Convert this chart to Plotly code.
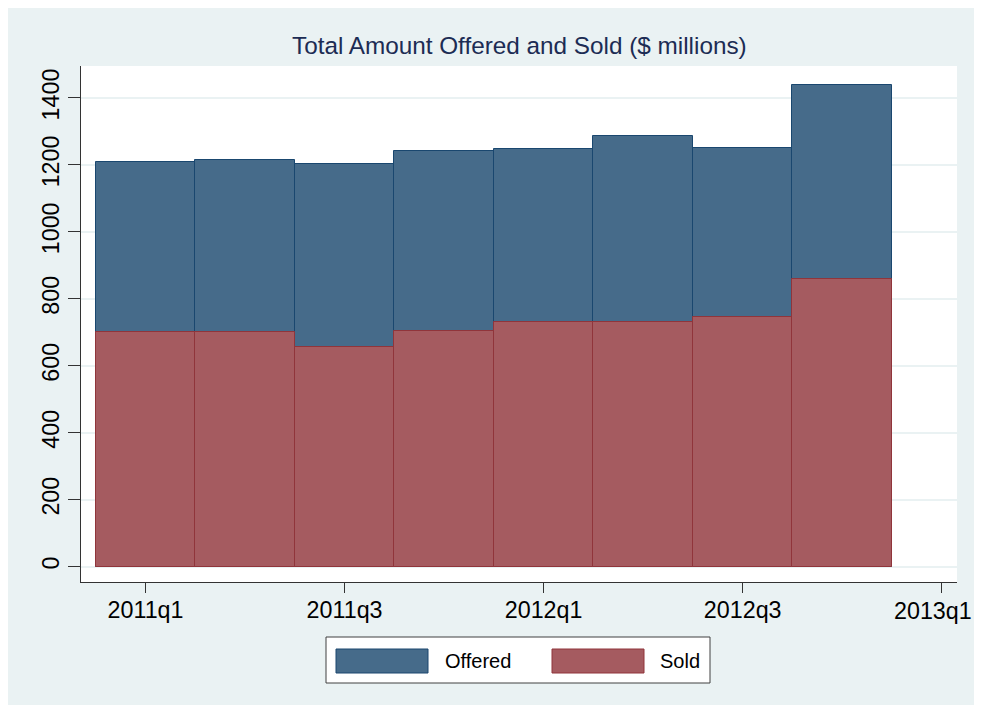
import plotly.graph_objects as go

# ---- data ----
quarters = ["2011q1", "2011q2", "2011q3", "2011q4", "2012q1", "2012q2", "2012q3", "2012q4"]
offered = [1209, 1216, 1202, 1243, 1249, 1286, 1252, 1440]
sold = [701, 701, 657, 704, 730, 730, 747, 858]
x_tick_labels = ["2011q1", "2011q3", "2012q1", "2012q3", "2013q1"]
x_tick_pos = [0, 2, 4, 6, 8]
y_ticks = [0, 200, 400, 600, 800, 1000, 1200, 1400]

# ---- style / layout (page body keeps its default 8px margin) ----
OX, OY = 8, 8
W, H = 966, 697
ML, MR, MT, MB = 73, 17, 58, 123
PW, PH = W - ML - MR, H - MT - MB
BG = "#eaf2f3"
OFF_FILL, OFF_LINE = "#466b8a", "#1a476f"
SOLD_FILL, SOLD_LINE = "#a55b60", "#90353b"
FONT = "Liberation Sans, Arial, sans-serif"
TICK_SIZE = 23.3


def px_x(rx):
    return (rx - OX - ML) / PW


def px_y(ry):
    return (H - MB - (ry - OY)) / PH


xpos = list(range(len(quarters)))

fig = go.Figure()
fig.add_trace(go.Bar(
    x=xpos, y=offered, width=1, name="Offered", customdata=quarters,
    marker=dict(color=OFF_FILL, line=dict(color=OFF_LINE, width=1)),
    showlegend=False,
))
fig.add_trace(go.Bar(
    x=xpos, y=sold, width=1, name="Sold", customdata=quarters,
    marker=dict(color=SOLD_FILL, line=dict(color=SOLD_LINE, width=1)),
    showlegend=False,
))

shapes = []
annotations = []

# legend box
shapes.append(dict(type="rect", xref="paper", yref="paper", x0=px_x(326), x1=px_x(710),
                   y0=px_y(683), y1=px_y(637), fillcolor="white",
                   line=dict(color="#404040", width=1)))
shapes.append(dict(type="rect", xref="paper", yref="paper", x0=px_x(336), x1=px_x(428),
                   y0=px_y(673), y1=px_y(649), fillcolor=OFF_FILL,
                   line=dict(color=OFF_LINE, width=1)))
shapes.append(dict(type="rect", xref="paper", yref="paper", x0=px_x(552), x1=px_x(644),
                   y0=px_y(673), y1=px_y(649), fillcolor=SOLD_FILL,
                   line=dict(color=SOLD_LINE, width=1)))
annotations.append(dict(text="Offered", xref="paper", yref="paper", x=px_x(443), y=px_y(661),
                        xanchor="left", yanchor="middle", showarrow=False,
                        font=dict(family=FONT, size=20, color="black")))
annotations.append(dict(text="Sold", xref="paper", yref="paper", x=px_x(658), y=px_y(661),
                        xanchor="left", yanchor="middle", showarrow=False,
                        font=dict(family=FONT, size=20, color="black")))
# title
annotations.append(dict(text="Total Amount Offered and Sold ($ millions)", xref="paper", yref="paper",
                        x=0.5, y=px_y(46), xanchor="center", yanchor="middle", showarrow=False,
                        font=dict(family=FONT, size=24.3, color="#1c2c54")))
# last x tick label sits at the right edge of the image; plotly hides it when it
# overflows, so keep it visible flush with the figure edge
annotations.append(dict(text=x_tick_labels[-1], xref="paper", yref="paper",
                        x=(W - ML) / PW, y=px_y(610.5), xanchor="right", yanchor="middle",
                        showarrow=False, font=dict(family=FONT, size=TICK_SIZE, color="black")))

fig.update_layout(
    width=W, height=H,
    margin=dict(l=ML, r=MR, t=MT, b=MB),
    paper_bgcolor=BG, plot_bgcolor="white",
    barmode="overlay", bargap=0,
    font=dict(family=FONT, size=23, color="black"),
    shapes=shapes, annotations=annotations,
    xaxis=dict(
        range=[-0.648, 8.153], tickmode="array", tickvals=x_tick_pos, ticktext=x_tick_labels,
        showgrid=False, zeroline=False, showline=True, linecolor="#333333", linewidth=1,
        ticks="outside", ticklen=10, tickcolor="#333333", tickwidth=1,
        tickfont=dict(family=FONT, size=TICK_SIZE, color="black"), ticklabelstandoff=-3,
    ),
    yaxis=dict(
        range=[-46, 1495.5], tickmode="array", tickvals=y_ticks,
        showgrid=True, gridcolor=BG, gridwidth=1.5, zeroline=False,
        showline=True, linecolor="#333333", linewidth=1,
        ticks="outside", ticklen=12, tickcolor="#333333", tickwidth=1,
        tickangle=-90, tickfont=dict(family=FONT, size=TICK_SIZE, color="black"),
    ),
)

fig.write_html("out.html", config={"displayModeBar": False})
